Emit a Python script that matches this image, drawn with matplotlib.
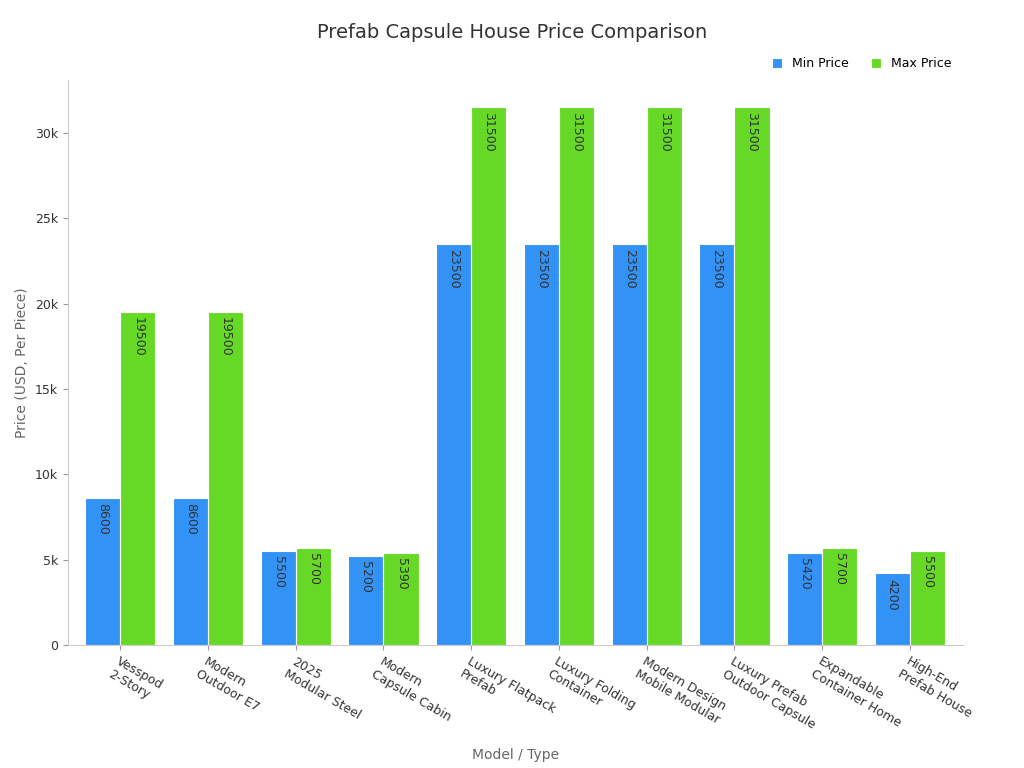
import matplotlib
matplotlib.use("Agg")
import matplotlib.pyplot as plt
import numpy as np

categories = ["Vesspod\n2-Story", "Modern\nOutdoor E7", "2025\nModular Steel", "Modern\nCapsule Cabin",
              "Luxury Flatpack\nPrefab", "Luxury Folding\nContainer", "Modern Design\nMobile Modular",
              "Luxury Prefab\nOutdoor Capsule", "Expandable\nContainer Home", "High-End\nPrefab House"]
min_price = [8600, 8600, 5500, 5200, 23500, 23500, 23500, 23500, 5420, 4200]
max_price = [19500, 19500, 5700, 5390, 31500, 31500, 31500, 31500, 5700, 5500]

fig = plt.figure(figsize=(10.24, 7.68), dpi=100)
ax = fig.add_axes([0.066, 0.16, 0.874, 0.736])
x = np.arange(len(categories))
w = 0.4
b1 = ax.bar(x - w/2, min_price, w, color="#3392F5", edgecolor="white", linewidth=0.8, label="Min Price")
b2 = ax.bar(x + w/2, max_price, w, color="#66D926", edgecolor="white", linewidth=0.8, label="Max Price")
for bars in (b1, b2):
    for r in bars:
        ax.text(r.get_x() + r.get_width()/2, r.get_height() - 300, f"{int(r.get_height())}",
                rotation=-90, ha="center", va="top", fontsize=9, color="#333333")

ax.set_xlim(-0.6, len(categories) - 0.4)
ax.set_ylim(0, 33100)
ax.set_yticks([0, 5000, 10000, 15000, 20000, 25000, 30000])
ax.set_yticklabels(["0", "5k", "10k", "15k", "20k", "25k", "30k"], fontsize=9, color="#333333")
ax.set_xticks(x)
ax.set_xticklabels(categories, rotation=-30, ha="left", rotation_mode="anchor", fontsize=9, color="#333333")
for s in ("top", "right"):
    ax.spines[s].set_visible(False)
for s in ("left", "bottom"):
    ax.spines[s].set_color("#cccccc")
ax.tick_params(colors="#999999", labelcolor="#333333")
ax.set_ylabel("Price (USD, Per Piece)", fontsize=10, color="#666666")
ax.set_xlabel("Model / Type", fontsize=10, color="#666666", labelpad=12)
fig.suptitle("Prefab Capsule House Price Comparison", fontsize=14, color="#333333", y=0.97)
ax.legend(loc="upper right", bbox_to_anchor=(1.0, 1.06), ncol=2, frameon=False, fontsize=9,
          handlelength=0.8, handleheight=0.8, columnspacing=1.8)
fig.savefig("out.png", dpi=100)
